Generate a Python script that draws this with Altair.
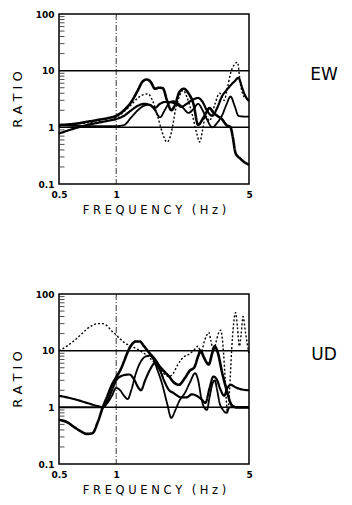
import altair as alt
import pandas as pd

# ---------------- data (frequency Hz, spectral ratio) ----------------
series_names = ["thick", "medium", "thin", "dotted"]

ew_thick = [(0.5, 1.1), (0.6, 1.15), (0.7, 1.25), (0.8, 1.35), (0.9, 1.45), (1.0, 1.6),
            (1.1, 2.0), (1.2, 2.8), (1.3, 4.5), (1.38, 6.5), (1.45, 7.0), (1.52, 6.3),
            (1.6, 4.8), (1.68, 5.0), (1.76, 4.9), (1.85, 3.0), (1.95, 2.0), (2.05, 2.6),
            (2.15, 4.2), (2.27, 4.8), (2.4, 4.0), (2.55, 2.6), (2.7, 1.1), (2.85, 1.4),
            (3.0, 1.9), (3.1, 2.2), (3.25, 1.8), (3.4, 1.6), (3.6, 1.4), (3.8, 1.1),
            (4.0, 1.0), (4.1, 0.7), (4.25, 0.35), (4.5, 0.28), (4.75, 0.24), (5.0, 0.22)]
ew_medium = [(0.5, 0.78), (0.6, 0.95), (0.7, 1.1), (0.8, 1.2), (0.9, 1.3), (1.0, 1.4),
             (1.1, 1.6), (1.2, 2.0), (1.3, 2.4), (1.4, 2.6), (1.5, 2.5), (1.6, 2.2),
             (1.7, 2.6), (1.8, 2.8), (1.9, 2.8), (2.0, 2.7), (2.1, 2.5), (2.2, 2.3),
             (2.35, 2.6), (2.5, 3.0), (2.7, 3.3), (2.85, 2.8), (3.0, 2.0), (3.2, 1.6),
             (3.4, 2.2), (3.6, 3.5), (3.8, 4.5), (4.0, 5.5), (4.2, 6.5), (4.4, 7.5),
             (4.6, 5.0), (4.8, 3.5), (5.0, 2.9)]
ew_thin = [(0.5, 1.1), (0.7, 1.05), (0.8, 1.05), (0.9, 1.05), (1.0, 1.05), (1.1, 1.1),
           (1.2, 1.5), (1.3, 2.0), (1.4, 2.4), (1.5, 2.5), (1.6, 2.0), (1.7, 1.5),
           (1.8, 2.0), (1.9, 2.7), (2.0, 2.9), (2.1, 2.7), (2.25, 2.2), (2.4, 1.8),
           (2.55, 2.1), (2.7, 2.6), (2.85, 2.0), (3.0, 1.4), (3.2, 1.0), (3.4, 1.2),
           (3.6, 1.6), (3.8, 2.5), (4.0, 3.5), (4.2, 2.4), (4.4, 1.6), (4.7, 1.55),
           (5.0, 1.55)]
ew_dotted = [(0.5, 1.05), (0.7, 1.2), (0.9, 1.3), (1.0, 1.5), (1.1, 1.9), (1.2, 2.5),
             (1.3, 3.3), (1.4, 3.8), (1.47, 3.9), (1.55, 3.0), (1.65, 1.6), (1.75, 0.8),
             (1.85, 0.55), (1.95, 0.8), (2.05, 2.0), (2.15, 3.5), (2.25, 4.5), (2.35, 3.5),
             (2.5, 1.8), (2.65, 0.8), (2.75, 0.55), (2.85, 0.9), (2.95, 1.6), (3.1, 1.3),
             (3.3, 2.5), (3.5, 4.0), (3.7, 3.0), (3.85, 5.0), (4.0, 9.0), (4.2, 13.0),
             (4.35, 14.0), (4.5, 6.0), (4.7, 3.5), (5.0, 3.1)]

ud_thick = [(0.5, 0.6), (0.55, 0.55), (0.6, 0.45), (0.65, 0.38), (0.7, 0.34), (0.75, 0.35),
            (0.8, 0.55), (0.85, 1.0), (0.9, 1.6), (0.95, 2.5), (1.0, 3.4), (1.05, 4.5),
            (1.1, 6.5), (1.15, 9.5), (1.2, 12.5), (1.27, 14.5), (1.33, 14.5), (1.4, 12.0),
            (1.5, 9.0), (1.6, 7.0), (1.7, 5.2), (1.8, 4.2), (1.9, 3.5), (2.0, 2.8),
            (2.14, 2.5), (2.3, 3.3), (2.45, 4.5), (2.57, 5.0), (2.7, 8.0), (2.78, 10.0),
            (2.9, 7.5), (3.07, 5.7), (3.2, 9.0), (3.3, 12.0), (3.4, 10.0), (3.63, 3.8),
            (3.85, 1.8), (4.05, 1.1), (4.3, 1.0), (4.6, 1.0), (5.0, 1.0)]
ud_medium = [(0.5, 1.6), (0.6, 1.4), (0.7, 1.2), (0.8, 1.05), (0.85, 1.0), (0.9, 1.3),
             (0.95, 2.0), (1.0, 3.0), (1.05, 3.5), (1.1, 3.7), (1.17, 3.8), (1.25, 3.0),
             (1.3, 2.3), (1.35, 2.0), (1.42, 3.0), (1.5, 4.5), (1.6, 6.0), (1.7, 4.5),
             (1.8, 2.8), (1.9, 2.0), (2.0, 1.8), (2.1, 1.6), (2.2, 1.5), (2.35, 1.5),
             (2.5, 1.7), (2.65, 1.6), (2.8, 1.4), (2.95, 1.2), (3.1, 2.2), (3.25, 3.5),
             (3.4, 3.0), (3.55, 2.0), (3.7, 1.6), (3.85, 2.2), (4.0, 2.5), (4.2, 2.3),
             (4.5, 2.1), (5.0, 2.0)]
ud_thin = [(0.5, 1.0), (0.6, 1.0), (0.7, 1.0), (0.8, 1.0), (0.85, 1.0), (0.9, 1.2),
           (0.95, 1.6), (1.0, 2.2), (1.05, 2.0), (1.1, 1.6), (1.15, 1.4), (1.2, 2.0),
           (1.27, 4.0), (1.35, 6.5), (1.42, 7.8), (1.5, 8.2), (1.57, 7.0), (1.65, 4.5),
           (1.75, 2.5), (1.85, 1.2), (1.95, 0.65), (2.05, 0.9), (2.15, 1.3), (2.3, 1.8),
           (2.45, 2.8), (2.6, 4.0), (2.7, 3.0), (2.8, 1.5), (2.9, 1.0), (3.0, 0.9),
           (3.1, 1.5), (3.2, 2.5), (3.3, 3.0), (3.4, 2.0), (3.5, 1.2), (3.65, 0.9),
           (3.8, 0.8), (3.95, 1.0), (4.2, 1.0), (4.6, 1.0), (5.0, 1.0)]
ud_dotted = [(0.5, 10.0), (0.55, 12.0), (0.6, 15.0), (0.65, 19.0), (0.7, 24.0), (0.75, 28.0),
             (0.8, 30.0), (0.85, 30.0), (0.9, 27.0), (0.95, 22.0), (1.0, 19.0), (1.05, 16.0),
             (1.1, 14.0), (1.2, 12.0), (1.3, 10.5), (1.4, 9.0), (1.5, 7.5), (1.6, 6.0),
             (1.7, 4.8), (1.8, 3.8), (1.9, 3.5), (2.0, 4.0), (2.1, 5.5), (2.2, 7.0),
             (2.3, 8.0), (2.41, 8.6), (2.55, 10.0), (2.7, 12.0), (2.8, 9.0), (2.9, 14.0),
             (3.0, 19.0), (3.07, 21.0), (3.15, 15.0), (3.25, 10.0), (3.35, 14.0), (3.45, 20.0),
             (3.55, 23.0), (3.65, 12.0), (3.75, 3.0), (3.85, 0.8), (3.95, 2.0), (4.05, 10.0),
             (4.15, 30.0), (4.25, 47.0), (4.35, 25.0), (4.45, 12.0), (4.55, 20.0), (4.65, 40.0),
             (4.8, 20.0), (5.0, 8.6)]

panel_labels = ["EW", "UD"]
x_ticks = [0.5, 1, 5]
y_ticks = [0.1, 1, 10, 100]
minor_ticks = [0.2, 0.3, 0.4, 0.5, 0.6, 0.7, 0.8, 0.9, 2, 3, 4, 5, 6, 7, 8, 9,
               20, 30, 40, 50, 60, 70, 80, 90]
ref_levels = [1, 10]
ref_freq = [1]

F = "DejaVu Sans"
X_TITLE = "F R E Q U E N C Y \u2002( H z )"
Y_TITLE = "R A T I O"


def make_df(groups):
    rows = []
    for name, pts in zip(series_names, groups):
        for f, r in pts:
            rows.append({"f": f, "r": r, "series": name})
    return pd.DataFrame(rows)


xscale = alt.Scale(type="log", domain=[0.5, 5], nice=False)
yscale = alt.Scale(type="log", domain=[0.1, 100], nice=False)


def panel(groups, label):
    df = make_df(groups)
    base_x = alt.X("f:Q", scale=xscale,
                   axis=alt.Axis(values=x_ticks, format="~g", title=X_TITLE,
                                 grid=False, domain=False, ticks=False, labelPadding=6,
                                 labelFlush=False,
                                 labelFont=F, labelFontSize=9, labelFontWeight="bold",
                                 titleFont=F, titleFontSize=11.5, titleFontWeight="normal",
                                 titlePadding=5, labelColor="black", titleColor="black"))
    base_y = alt.Y("r:Q", scale=yscale,
                   axis=alt.Axis(values=y_ticks, format="~g", title=Y_TITLE,
                                 grid=False, domain=False, ticks=False, labelPadding=5,
                                 labelFlush=False,
                                 labelFont=F, labelFontSize=9, labelFontWeight="bold",
                                 titleFont=F, titleFontSize=13, titleFontWeight="normal",
                                 titlePadding=11, labelColor="black", titleColor="black"))
    lines = alt.Chart(df).mark_line(color="black", interpolate="monotone").encode(
        x=base_x, y=base_y,
        detail="series:N",
        strokeWidth=alt.StrokeWidth("series:N", legend=None,
                                    scale=alt.Scale(domain=series_names, range=[2.6, 1.4, 0.9, 1.3])),
        strokeDash=alt.StrokeDash("series:N", legend=None,
                                  scale=alt.Scale(domain=series_names,
                                                  range=[[1, 0], [1, 0], [1, 0], [2, 2]])),
    )
    hrules = alt.Chart(pd.DataFrame({"r": ref_levels})).mark_rule(
        color="black", strokeWidth=1.5).encode(y=alt.Y("r:Q", scale=yscale))
    vrule = alt.Chart(pd.DataFrame({"f": ref_freq})).mark_rule(
        color="black", strokeWidth=0.8, strokeDash=[6, 2, 1, 2]).encode(x=alt.X("f:Q", scale=xscale))
    minor = alt.Chart(pd.DataFrame({"r": minor_ticks})).mark_tick(
        color="black", thickness=1, size=5, orient="horizontal").encode(
        y=alt.Y("r:Q", scale=yscale), x=alt.value(3))
    txt = alt.Chart(pd.DataFrame({"t": [label]})).mark_text(
        font=F, fontSize=17, align="center", baseline="middle", color="black").encode(
        text="t:N", x=alt.value(265), y=alt.value(61))
    return alt.layer(lines, hrules, vrule, minor, txt).properties(width=190, height=170)


chart = alt.vconcat(
    panel([ew_thick, ew_medium, ew_thin, ew_dotted], panel_labels[0]),
    panel([ud_thick, ud_medium, ud_thin, ud_dotted], panel_labels[1]),
    spacing=72,
).properties(
    padding={"left": 10, "top": 9, "right": 5, "bottom": 5},
    background="white",
).configure_view(stroke="black", strokeWidth=1.5)

chart.save("out.html", embed_options={"renderer": "svg", "actions": False})
